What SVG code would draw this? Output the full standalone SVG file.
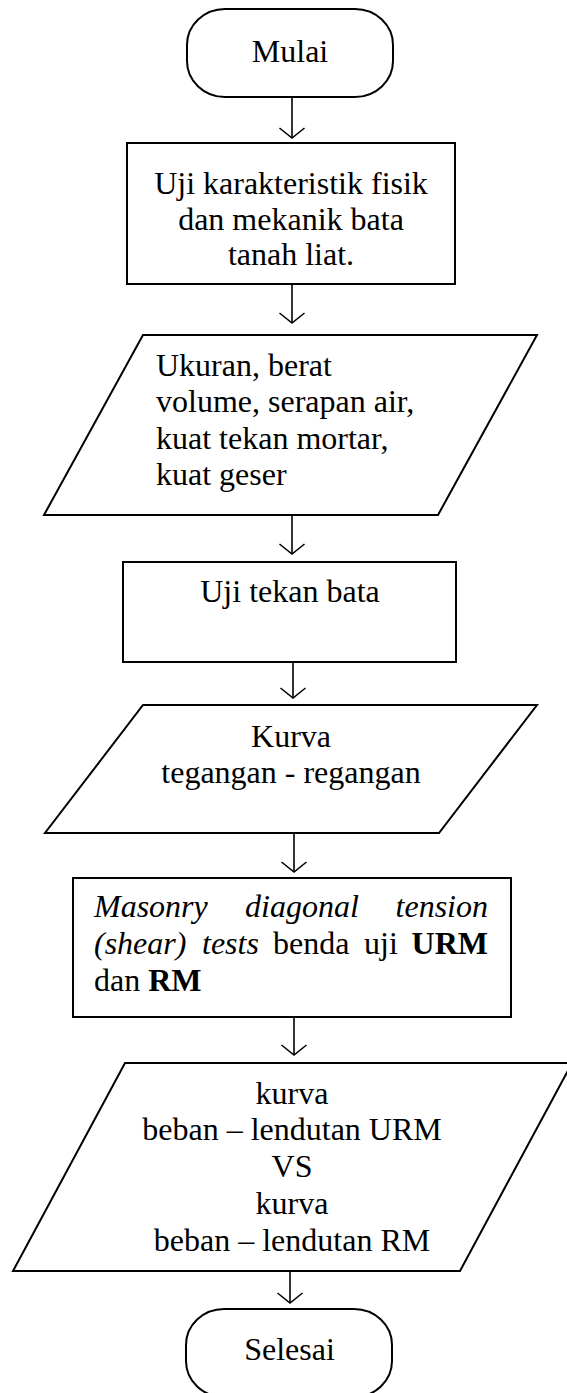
<svg xmlns="http://www.w3.org/2000/svg" width="567" height="1393" viewBox="0 0 567 1393">
<style>
.shape{fill:#ffffff;stroke:#000000;stroke-width:2}
.conn{fill:none;stroke:#000000;stroke-width:1.6;marker-end:url(#arr)}
text{font-family:"Liberation Serif","Times New Roman",serif;font-size:32px;fill:#000000}
.c{text-anchor:middle}
.e{text-anchor:end}
.i{font-style:italic}
.b{font-weight:bold}
</style>
<defs>
<marker id="arr" markerUnits="userSpaceOnUse" orient="auto" refX="0" refY="0" markerWidth="30" markerHeight="30" overflow="visible">
<path d="M-10,-12.5 L0,0 L-10,12.5" fill="none" stroke="#000000" stroke-width="1.6"/>
</marker>
</defs>
<rect width="567" height="1393" fill="#ffffff"/>
<g id="connectors">
<line class="conn" x1="292" y1="97" x2="292" y2="138"/>
<line class="conn" x1="292" y1="284" x2="292" y2="323"/>
<line class="conn" x1="292" y1="515" x2="292" y2="554"/>
<line class="conn" x1="293" y1="662" x2="293" y2="698"/>
<line class="conn" x1="294" y1="833" x2="294" y2="872"/>
<line class="conn" x1="294" y1="1017" x2="294" y2="1055"/>
<line class="conn" x1="290" y1="1266" x2="290" y2="1303"/>
</g>
<g id="start">
<rect class="shape" x="187" y="9" width="206" height="88" rx="38" ry="36"/>
<text class="c" x="290" y="62">Mulai</text>
</g>
<g id="test-physical">
<rect class="shape" x="127" y="143" width="328" height="141"/>
<text class="c" x="291" y="194">Uji karakteristik fisik</text>
<text class="c" x="291" y="229.5">dan mekanik bata</text>
<text class="c" x="291" y="265">tanah liat.</text>
</g>
<g id="data-physical">
<polygon class="shape" points="143,335 537,335 438,515 44,515"/>
<text x="156" y="376">Ukuran, berat</text>
<text x="156" y="412">volume, serapan air,</text>
<text x="156" y="448.5">kuat tekan mortar,</text>
<text x="156" y="485">kuat geser</text>
</g>
<g id="test-compression">
<rect class="shape" x="123" y="562" width="333" height="100"/>
<text class="c" x="290" y="602">Uji tekan bata</text>
</g>
<g id="data-curve">
<polygon class="shape" points="143,705 537,705 439,833 45,833"/>
<text class="c" x="291" y="747">Kurva</text>
<text class="c" x="291" y="783">tegangan - regangan</text>
</g>
<g id="test-shear">
<rect class="shape" x="73" y="878" width="438" height="139"/>
<text class="i" x="94" y="917">Masonry</text>
<text class="i" x="245" y="917">diagonal</text>
<text class="i e" x="488" y="917">tension</text>
<text class="i" x="94" y="953.5">(shear)</text>
<text class="i" x="202" y="953.5">tests</text>
<text x="273" y="953.5">benda</text>
<text x="364" y="953.5">uji</text>
<text class="b e" x="488" y="953.5">URM</text>
<text x="94" y="991">dan <tspan class="b">RM</tspan></text>
</g>
<g id="data-load">
<polygon class="shape" points="125,1063 572,1063 460,1271 13,1271"/>
<text class="c" x="292" y="1103.5">kurva</text>
<text class="c" x="292" y="1140">beban – lendutan URM</text>
<text class="c" x="292" y="1177">VS</text>
<text class="c" x="292" y="1213.5">kurva</text>
<text class="c" x="292" y="1250.5">beban – lendutan RM</text>
</g>
<g id="end">
<rect class="shape" x="186" y="1309" width="206" height="88" rx="38" ry="36"/>
<text class="c" x="289.5" y="1360">Selesai</text>
</g>
</svg>
